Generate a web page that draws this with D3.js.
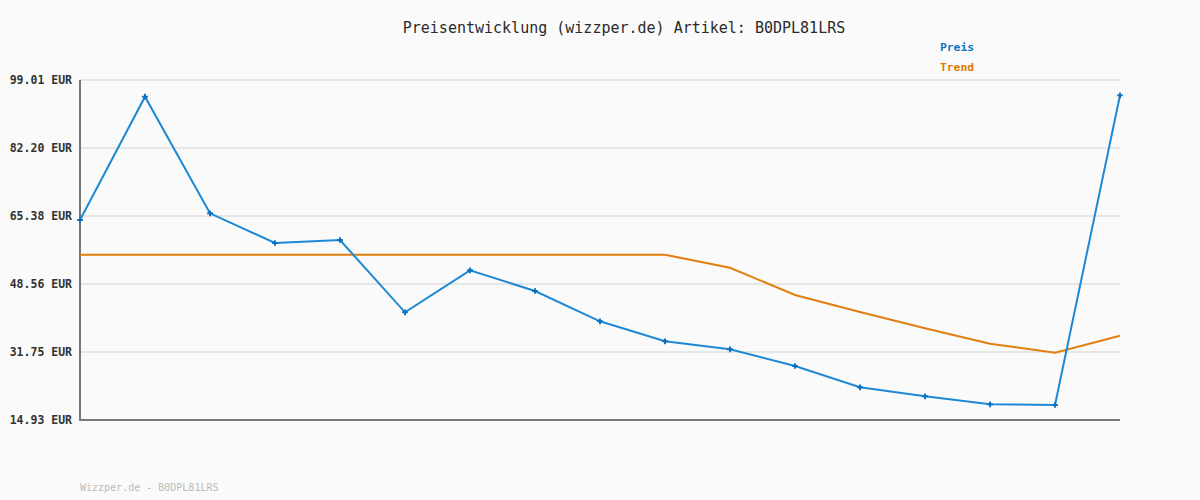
<!DOCTYPE html>
<html>
<head>
<meta charset="utf-8">
<script src="https://cdn.jsdelivr.net/npm/d3@7/dist/d3.min.js"></script>
<style>
html,body{margin:0;padding:0;background:#fafafa;}
svg{display:block;}
text{font-family:"DejaVu Sans Mono",monospace;}
</style>
</head>
<body>
<svg id="chart" width="1200" height="500"></svg>
<script>
const titleText = "Preisentwicklung (wizzper.de) Artikel: B0DPL81LRS";
const footerText = "Wizzper.de - B0DPL81LRS";
const seriesNames = ["Preis", "Trend"];
const preis = [64.39, 94.88, 66.04, 58.70, 59.44, 41.56, 51.95, 46.83, 39.34, 34.39, 32.41, 28.28, 23.02, 20.79, 18.81, 18.64, 95.22];
const trend = [55.81, 55.81, 55.81, 55.81, 55.81, 55.81, 55.81, 55.81, 55.81, 55.81, 52.59, 45.84, 41.64, 37.61, 33.80, 31.57, 35.78];
const yTicks = [14.93, 31.75, 48.56, 65.38, 82.20, 99.01];
const tickLabels = ["14.93 EUR", "31.75 EUR", "48.56 EUR", "65.38 EUR", "82.20 EUR", "99.01 EUR"];

(function () {
const svg = d3.select("#chart");
const mLeft = 80, mRight = 1120, mTop = 80, mBottom = 420;
const x = d3.scaleLinear().domain([0, preis.length - 1]).range([mLeft, mRight]);
const y = d3.scaleLinear().domain([yTicks[0], yTicks[yTicks.length - 1]]).range([mBottom, mTop]);

svg.append("rect").attr("width", 1200).attr("height", 500).attr("fill", "#fafafa");

// grid
svg.append("g").selectAll("line").data(yTicks.slice(1)).join("line")
  .attr("x1", mLeft).attr("x2", mRight)
  .attr("y1", d => y(d)).attr("y2", d => y(d))
  .attr("stroke", "#e6e6e6").attr("stroke-width", 2);

// y axis labels via d3 axis
const yAxis = d3.axisLeft(y).tickValues(yTicks).tickSize(0).tickPadding(8)
  .tickFormat((d, i) => tickLabels[i]);
const gy = svg.append("g").attr("transform", `translate(${mLeft},0)`).call(yAxis);
gy.select(".domain").remove();
gy.selectAll("text").attr("font-family", "DejaVu Sans Mono, monospace")
  .attr("font-size", 11.5).attr("font-weight", "bold").attr("fill", "#333");

// axis lines
svg.append("line").attr("x1", mLeft).attr("x2", mLeft).attr("y1", mTop).attr("y2", mBottom + 1)
  .attr("stroke", "#777").attr("stroke-width", 2);
svg.append("line").attr("x1", mLeft - 1).attr("x2", mRight).attr("y1", mBottom).attr("y2", mBottom)
  .attr("stroke", "#777").attr("stroke-width", 2);

const line = d3.line().x((d, i) => x(i)).y(d => y(d));

svg.append("path").datum(trend).attr("d", line)
  .attr("fill", "none").attr("stroke", "#e07f10").attr("stroke-width", 2);
svg.append("path").datum(preis).attr("d", line)
  .attr("fill", "none").attr("stroke", "#1e88d4").attr("stroke-width", 2);

svg.append("g").selectAll("path").data(preis).join("path")
  .attr("transform", (d, i) => `translate(${x(i)},${y(d)})`)
  .attr("d", d3.symbol().type(d3.symbolCross).size(18))
  .attr("fill", "#0a6fc0");

// title
svg.append("text").attr("x", 624).attr("y", 33).attr("text-anchor", "middle")
  .attr("font-size", 15).attr("fill", "#2a2a2a").text(titleText);

// legend
const legendColors = ["#0a74c4", "#e07800"];
svg.append("g").selectAll("text").data(seriesNames).join("text")
  .attr("x", 940).attr("y", (d, i) => 51 + i * 20)
  .attr("font-size", 11.3).attr("font-weight", "bold")
  .attr("fill", (d, i) => legendColors[i]).text(d => d);

// footer
svg.append("text").attr("x", 80).attr("y", 491)
  .attr("font-size", 10).attr("fill", "#bbb").text(footerText);
})();
</script>
</body>
</html>
